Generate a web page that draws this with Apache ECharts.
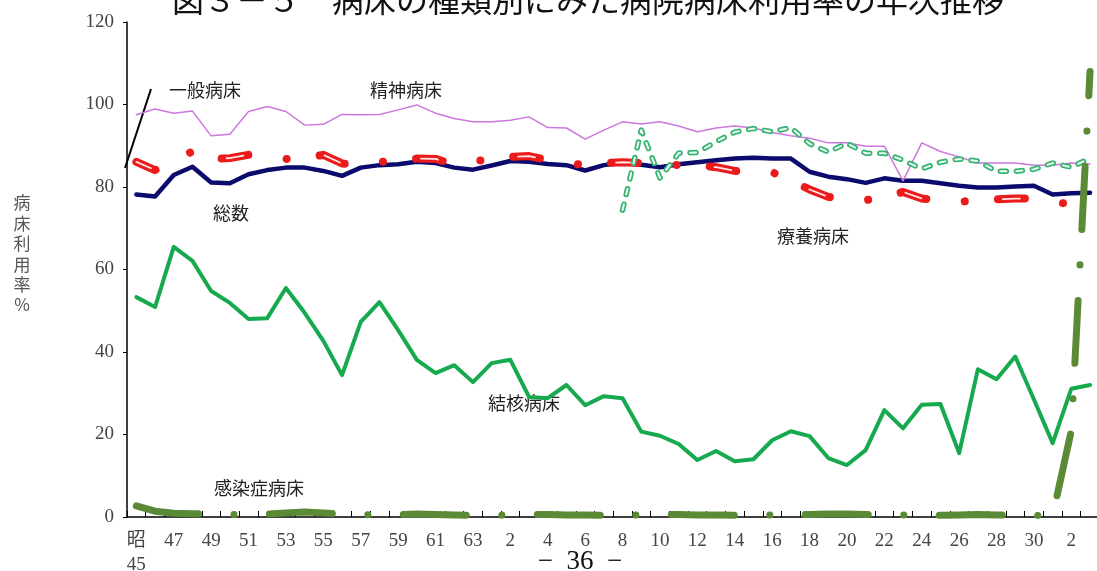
<!DOCTYPE html>
<html>
<head>
<meta charset="utf-8">
<title>病床の種類別にみた病院病床利用率の年次推移</title>
<script src="https://cdn.jsdelivr.net/npm/echarts@6/dist/echarts.min.js"></script>
<style>
  html, body { margin: 0; padding: 0; background: #fff; }
  #main { width: 1097px; height: 571px; }
</style>
</head>
<body>
<div id="main"></div>
<script>
// 年次（昭和45年～令和3年）
const categories = [
  '昭\n45', '46', '47', '48', '49', '50', '51', '52', '53', '54',
  '55', '56', '57', '58', '59', '60', '61', '62', '63',
  '元', '2', '3', '4', '5', '6', '7', '8', '9', '10',
  '11', '12', '13', '14', '15', '16', '17', '18', '19', '20',
  '21', '22', '23', '24', '25', '26', '27', '28', '29', '30',
  '元', '2', '3'
];

// 病床利用率（％）
const total = [78.2, 77.7, 82.9, 84.9, 81.1, 80.9, 83.1, 84.1, 84.7, 84.7,
  83.9, 82.7, 84.7, 85.3, 85.5, 86.1, 85.8, 84.7, 84.2, 85.2,
  86.3, 86.1, 85.6, 85.3, 84.0, 85.3, 85.8, 85.4, 84.8, 85.5,
  86.0, 86.5, 86.9, 87.1, 86.9, 86.9, 83.7, 82.5, 81.9, 81.0,
  82.1, 81.5, 81.5, 80.9, 80.3, 79.9, 79.9, 80.1, 80.3, 78.2,
  78.5, 78.6];

const general = [86.1, 84.1, 86.5, 88.6, 86.8, 87.0, 87.8, 87.3, 86.8, 87.0,
  87.8, 85.7, 85.4, 86.1, 86.3, 86.9, 86.8, 85.5, 86.5, 86.3,
  87.3, 87.5, 86.5, 85.8, 85.3, 85.8, 86.0, 85.8, 85.5, 85.3,
  85.3, 84.8, 83.9, 83.7, 83.6, 81.5, 79.4, 77.6, 77.2, 76.8,
  77.5, 78.8, 77.2, 76.8, 76.4, 76.8, 77.0, 77.2, 77.2, 76.2,
  76.0, 76.3];

const psychiatric = [97.5, 98.9, 97.9, 98.4, 92.4, 92.8, 98.3, 99.5, 98.3, 95.0,
  95.2, 97.6, 97.5, 97.6, 98.7, 99.9, 97.9, 96.6, 95.8, 95.8,
  96.2, 97.0, 94.4, 94.3, 91.6, 93.8, 95.8, 95.3, 95.8, 94.8,
  93.4, 94.3, 94.8, 94.3, 93.2, 92.4, 91.8, 90.7, 90.7, 89.9,
  89.9, 81.5, 90.7, 88.6, 87.3, 85.8, 85.8, 85.8, 85.3, 85.3,
  85.8, 85.6];

const longTerm = [null, null, null, null, null, null, null, null, null, null,
  null, null, null, null, null, null, null, null, null, null,
  null, null, null, null, null, null, 74.4, 93.8, 82.2, 88.2,
  88.4, 91.0, 93.3, 94.2, 93.4, 94.4, 90.5, 88.5, 90.6, 88.2,
  88.2, 86.5, 84.4, 86.0, 86.8, 86.3, 83.8, 83.8, 84.3, 85.8,
  84.8, 87.0];

const tuberculosis = [53.3, 50.9, 65.5, 62.1, 54.8, 51.9, 48.0, 48.2, 55.5, 49.5,
  42.7, 34.4, 47.3, 52.1, 45.3, 38.1, 34.9, 36.8, 32.7, 37.3,
  38.1, 29.1, 28.8, 32.0, 27.1, 29.3, 28.8, 20.7, 19.7, 17.7,
  13.8, 16.0, 13.5, 14.0, 18.6, 20.8, 19.6, 14.3, 12.6, 16.2,
  25.9, 21.5, 27.2, 27.4, 15.5, 35.8, 33.4, 38.9, 28.5, 17.9,
  31.1, 32.0];

const infectious = [2.7, 1.4, 0.9, 0.8, 0.7, 0.6, 0.5, 0.7, 1.0, 1.2,
  1.0, 0.7, 0.5, 0.6, 0.6, 0.7, 0.6, 0.5, 0.4, 0.4,
  0.5, 0.6, 0.6, 0.5, 0.5, 0.4, 0.4, 0.5, 0.6, 0.6,
  0.5, 0.5, 0.4, 0.4, 0.5, 0.5, 0.6, 0.7, 0.7, 0.6,
  0.5, 0.5, 0.4, 0.4, 0.5, 0.6, 0.5, 0.4, 0.4, 0.3,
  21.0, 108.0];

const yTicks = { min: 0, max: 120, interval: 20 };

const jpFont = '"Noto Sans CJK JP", sans-serif';
const numFont = '"Liberation Serif", "Noto Sans CJK JP", serif';

function line(name, data, lineStyle) {
  return {
    name: name,
    type: 'line',
    data: data,
    symbol: 'none',
    showSymbol: false,
    silent: true,
    lineStyle: Object.assign({ cap: 'round', join: 'round' }, lineStyle),
  };
}

function note(text, x, y) {
  return {
    type: 'text', x: x, y: y,
    style: { text: text, fill: '#222', font: '18px ' + jpFont, align: 'center', verticalAlign: 'middle' },
  };
}

const chart = echarts.init(document.getElementById('main'));

chart.setOption({
  animation: false,
  backgroundColor: '#fff',
  grid: {
    left: 127,
    top: 22,
    width: 972.4,
    height: 495,
    containLabel: false,
    outerBoundsMode: 'none',
  },
  xAxis: {
    type: 'category',
    data: categories,
    boundaryGap: true,
    axisLine: { lineStyle: { color: '#000', width: 1.5 } },
    axisTick: { show: true, inside: true, length: 6, interval: 0, lineStyle: { color: '#000', width: 1 } },
    axisLabel: { interval: 1, margin: 12, color: '#444', fontFamily: numFont, fontSize: 19, lineHeight: 24 },
    splitLine: { show: false },
  },
  yAxis: {
    type: 'value',
    min: yTicks.min,
    max: yTicks.max,
    interval: yTicks.interval,
    axisLine: { show: true, lineStyle: { color: '#000', width: 1.5 } },
    axisTick: { show: true, length: 4, lineStyle: { color: '#000' } },
    axisLabel: { margin: 13, color: '#444', fontFamily: numFont, fontSize: 19 },
    splitLine: { show: false },
  },
  series: [
    line('総数', total, { color: '#0b0b6e', width: 4.5 }),
    line('一般病床', general, { color: '#ec1b1b', width: 8, type: [27, 38.5, 0.1, 33.2], dashOffset: 6 }),
    line('一般病床_core', general, { color: '#ffe6e6', width: 1.8, type: [17, 81.8], dashOffset: 1 }),
    line('精神病床', psychiatric, { color: '#cc77dd', width: 1.5 }),
    line('療養病床', longTerm, { color: '#36b472', width: 5.5, type: [6, 10] }),
    line('療養病床_core', longTerm, { color: '#effaf3', width: 2, type: [6, 10] }),
    line('感染症病床', infectious, { color: '#5b8a36', width: 7, type: [63, 35.5, 0.1, 35.4] }),
    line('結核病床', tuberculosis, { color: '#16a94e', width: 4 }),
  ],
  graphic: [
    {
      type: 'text', x: 588, y: 0,
      style: { text: '図３－５　病床の種類別にみた病院病床利用率の年次推移', fill: '#111',
        font: '32px ' + jpFont, align: 'center', verticalAlign: 'middle' },
    },
    {
      type: 'text', x: 22, y: 254,
      style: { text: '病\n床\n利\n用\n率\n%', fill: '#555', font: '17px ' + jpFont,
        lineHeight: 20.4, align: 'center', verticalAlign: 'middle' },
    },
    { type: 'line', shape: { x1: 125, y1: 168, x2: 151, y2: 89 }, style: { stroke: '#000', lineWidth: 2 } },
    note('一般病床', 205, 90),
    note('精神病床', 406, 90),
    note('総数', 231, 213),
    note('療養病床', 813, 236),
    note('結核病床', 524, 403),
    note('感染症病床', 259, 488),
    {
      type: 'text', x: 580, y: 562,
      style: { text: '−  36  −', fill: '#111', font: '27px "Liberation Serif", serif', align: 'center', verticalAlign: 'middle' },
    },
  ],
});

window.onresize = function () {
  chart.resize();
};
</script>
</body>
</html>
